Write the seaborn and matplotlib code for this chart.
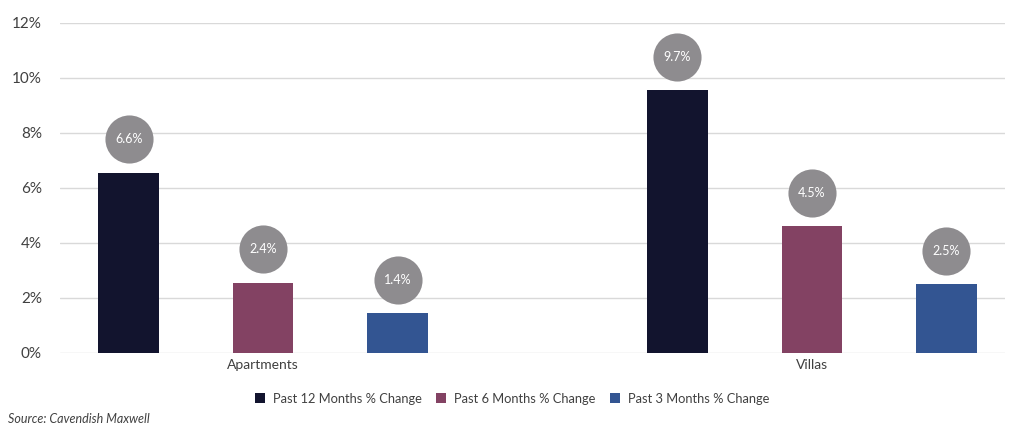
import matplotlib
matplotlib.use("Agg")
import matplotlib.pyplot as plt
import pandas as pd
import seaborn as sns

categories = ["Apartments", "Villas"]
series = ["Past 12 Months % Change", "Past 6 Months % Change", "Past 3 Months % Change"]
apartments_values = [6.55, 2.55, 1.45]
villas_values = [9.55, 4.6, 2.5]
apartments_labels = ["6.6%", "2.4%", "1.4%"]
villas_labels = ["9.7%", "4.5%", "2.5%"]
y_ticks = [0, 2, 4, 6, 8, 10, 12]

colors = ["#12142e", "#834263", "#335592"]
bubble_color = "#8e8c8f"
text_color = "#404040"

df = pd.DataFrame({
    "category": [categories[0]] * 3 + [categories[1]] * 3,
    "series": series * 2,
    "value": apartments_values + villas_values,
})
labels_by_series = {s: [a, v] for s, a, v in zip(series, apartments_labels, villas_labels)}

sns.set_theme(style="white")
plt.rcParams["font.family"] = ["Lato", "DejaVu Sans"]

fig = plt.figure(figsize=(10.24, 4.33), dpi=100)
ax = fig.add_axes([0.0586, 0.1848, 0.9229, 0.7621])

sns.barplot(data=df, x="category", y="value", hue="series", hue_order=series,
            palette=colors, width=0.735, gap=0.55, saturation=1, linewidth=0,
            ax=ax, legend=True)

# grey bubbles with the value labels above each bar
for container, s in zip(ax.containers, series):
    for bar, label in zip(container, labels_by_series[s]):
        cx = bar.get_x() + bar.get_width() / 2
        cy = bar.get_height() + 1.22
        ax.scatter([cx], [cy], s=1200, color=bubble_color, zorder=4, linewidths=0)
        ax.text(cx, cy, label, ha="center", va="center", color="white",
                fontsize=9, zorder=5)

ax.set_ylim(0, 12)
ax.set_xlim(-0.37, 1.352)
ax.set_yticks(y_ticks)
ax.set_yticklabels([f"{t}%" for t in y_ticks])
ax.yaxis.grid(True, color="#d9d9d9", linewidth=1)
ax.set_axisbelow(True)
for side in ["top", "right", "left", "bottom"]:
    ax.spines[side].set_visible(False)
ax.tick_params(axis="y", length=0, pad=13, labelsize=11, labelcolor=text_color)
ax.tick_params(axis="x", length=0, pad=4, labelsize=10, labelcolor=text_color)
ax.set_xlabel("")
ax.set_ylabel("")

handles, labels = ax.get_legend_handles_labels()
ax.get_legend().remove()
fig.legend(handles, labels, loc="center", bbox_to_anchor=(0.5, 0.079), ncol=3,
           frameon=False, fontsize=9.3, handlelength=0.8, handleheight=0.8,
           handletextpad=0.6, columnspacing=1.1, labelcolor=text_color)

fig.text(0.008, 0.032, "Source: Cavendish Maxwell", fontsize=9, style="italic",
         color=text_color, ha="left", va="center")

fig.savefig("out.png", dpi=100)
